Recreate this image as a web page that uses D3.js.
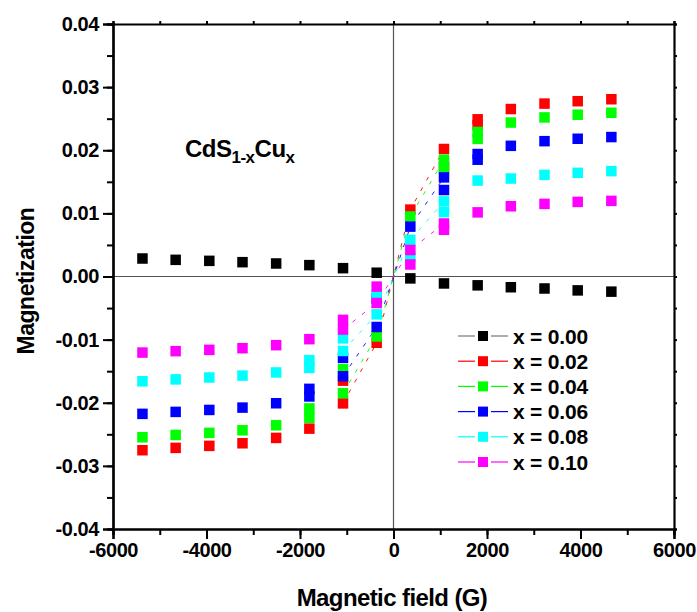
<!DOCTYPE html>
<html>
<head>
<meta charset="utf-8">
<script src="https://cdn.jsdelivr.net/npm/d3@7"></script>
<style>
  body { margin: 0; background: #fff; }
  text { font-family: "Liberation Sans", Arial, sans-serif; font-weight: bold; }
</style>
</head>
<body>
<svg width="697" height="612"></svg>
<script>
const svg = d3.select("svg");

// field values (G) where the points sit
const fields = [-5370, -4660, -3940, -3230, -2510, -1800, -1080, -360, 360, 1080, 1800, 2510, 3230, 3940, 4660];

const labels = ["x = 0.00", "x = 0.02", "x = 0.04", "x = 0.06", "x = 0.08", "x = 0.10"];
const colors = ["#000000", "#ff0000", "#00ff00", "#0000ff", "#00ffff", "#ff00ff"];
const lineColors = ["#777777", "#ff0000", "#00ff00", "#0000ff", "#00ffff", "#ff00ff"];

const m000 = [0.00285, 0.00264, 0.00248, 0.00227, 0.00206, 0.0018, 0.00132, 0.0006, -0.0003, -0.0011, -0.0014, -0.0017, -0.0019, -0.0022, -0.0024];
const m002 = [-0.02752, -0.02715, -0.02683, -0.02642, -0.02557, -0.0241, -0.0201, -0.0105, 0.0106, 0.0202, 0.0249, 0.02653, 0.02739, 0.02777, 0.02808];
const m004 = [-0.02547, -0.0251, -0.02477, -0.02436, -0.02357, -0.0224, -0.0185, -0.0095, 0.0095, 0.0185, 0.0229, 0.02439, 0.0252, 0.02563, 0.02594];
const m006 = [-0.02176, -0.02145, -0.02114, -0.02077, -0.02008, -0.019, -0.0158, -0.008, 0.0079, 0.0157, 0.0194, 0.0207, 0.02144, 0.02182, 0.02209];
const m008 = [-0.0166, -0.0163, -0.016, -0.0157, -0.0152, -0.01447, -0.0118, -0.006, 0.0058, 0.0119, 0.0152, 0.01552, 0.0161, 0.01642, 0.01669];
const m010 = [-0.01205, -0.01183, -0.01162, -0.01136, -0.01088, -0.00993, -0.0084, -0.0042, 0.0042, 0.0084, 0.01016, 0.01113, 0.0115, 0.01182, 0.01198];

// second-sweep points near the origin (field, magnetization)
const e000 = [];
const e002 = [[-1080, -0.0165], [1080, 0.0174], [1800, 0.0240]];
const e004 = [[-1800, -0.0209], [-1080, -0.0147], [1080, 0.0170], [1800, 0.0218]];
const e006 = [[-1800, -0.0178], [-1080, -0.0129], [-360, -0.0035], [1080, 0.0137], [1800, 0.0185]];
const e008 = [[-1800, -0.01326], [-1080, -0.0098], [-360, -0.00285], [360, 0.0031], [1080, 0.0102]];
const e010 = [[-1080, -0.00687], [-360, -0.0016], [360, 0.0019], [1080, 0.0074]];

const mains = [m000, m002, m004, m006, m008, m010];
const extras = [e000, e002, e004, e006, e008, e010];

const xTicks = [-6000, -4000, -2000, 0, 2000, 4000, 6000];
const yTicks = [-0.04, -0.03, -0.02, -0.01, 0, 0.01, 0.02, 0.03, 0.04];

const pLeft = 113, pRight = 674, pTop = 24, pBottom = 529;

const x = d3.scaleLinear().domain([-6000, 6000]).range([pLeft, pRight]);
const y = d3.scaleLinear().domain([-0.04, 0.04]).range([pBottom, pTop]);

// zero lines
svg.append("line").attr("x1", pLeft).attr("x2", pRight).attr("y1", y(0)).attr("y2", y(0))
  .attr("stroke", "#555").attr("stroke-width", 1.2);
svg.append("line").attr("x1", x(0)).attr("x2", x(0)).attr("y1", pTop).attr("y2", pBottom)
  .attr("stroke", "#555").attr("stroke-width", 1.2);

// axes
const minorX = d3.range(-6000, 6001, 1000);
const minorY = d3.range(-8, 9).map(i => i * 0.005);

const bx = svg.append("g").attr("transform", `translate(0,${pBottom})`)
  .call(d3.axisBottom(x).tickValues(minorX).tickSize(6).tickFormat(""));
bx.append("g").call(d3.axisBottom(x).tickValues(xTicks).tickSize(10).tickPadding(4)
  .tickFormat(d => String(d)));

const ly = svg.append("g").attr("transform", `translate(${pLeft},0)`)
  .call(d3.axisLeft(y).tickValues(minorY).tickSize(6).tickFormat(""));
ly.append("g").call(d3.axisLeft(y).tickValues(yTicks).tickSize(10).tickPadding(4)
  .tickFormat(d => (Math.abs(d) < 1e-9 ? 0 : d).toFixed(2)));

svg.append("g").attr("transform", `translate(0,${pTop})`)
  .call(d3.axisTop(x).tickValues(minorX).tickSize(3).tickFormat(""));
svg.append("g").attr("transform", `translate(${pRight},0)`)
  .call(d3.axisRight(y).tickValues(minorY).tickSize(3).tickFormat(""));

svg.selectAll(".domain").attr("stroke", "#000").attr("stroke-width", 2.2);
svg.selectAll(".tick line").attr("stroke", "#000").attr("stroke-width", 2);
svg.selectAll(".tick text").attr("font-size", 20).attr("fill", "#000")
  .attr("font-family", "Liberation Sans, Arial, sans-serif").attr("font-weight", "bold")
  .attr("letter-spacing", -0.4);

// dashed connecting lines near the origin
const line = d3.line().x(d => x(d[0])).y(d => y(d[1]));
mains.forEach((vals, i) => {
  if (i === 0) return;
  const pts = d3.range(6, 10).map(k => [fields[k], vals[k]]);
  svg.append("path").datum(pts).attr("d", line)
    .attr("fill", "none").attr("stroke", colors[i]).attr("stroke-width", 0.9)
    .attr("stroke-dasharray", "4,8");
});

// points
const sq = 10.5;
mains.forEach((vals, i) => {
  const pts = fields.map((f, k) => [f, vals[k]]).concat(extras[i]);
  svg.append("g").selectAll("rect").data(pts).enter().append("rect")
    .attr("x", d => x(d[0]) - sq / 2)
    .attr("y", d => y(d[1]) - sq / 2)
    .attr("width", sq).attr("height", sq)
    .attr("fill", colors[i]);
});

// legend
const lg = svg.append("g");
labels.forEach((t, i) => {
  const ly0 = 336 + i * 25.2;
  lg.append("line").attr("x1", 458).attr("x2", 475).attr("y1", ly0).attr("y2", ly0)
    .attr("stroke", lineColors[i]).attr("stroke-width", 1.2);
  lg.append("line").attr("x1", 491).attr("x2", 508).attr("y1", ly0).attr("y2", ly0)
    .attr("stroke", lineColors[i]).attr("stroke-width", 1.2);
  lg.append("rect").attr("x", 483 - 5).attr("y", ly0 - 5).attr("width", 10).attr("height", 10)
    .attr("fill", colors[i]);
  lg.append("text").attr("x", 513).attr("y", ly0 + 7.5).attr("font-size", 21)
    .attr("letter-spacing", -0.2).text(t);
});

// sample label
const lab = svg.append("text").attr("x", 185).attr("y", 157).attr("font-size", 24).attr("letter-spacing", -0.5);
lab.append("tspan").text("CdS");
lab.append("tspan").attr("dy", 6).attr("font-size", 17).text("1-x");
lab.append("tspan").attr("dy", -6).text("Cu");
lab.append("tspan").attr("dy", 6).attr("font-size", 17).text("x");

// axis titles
svg.append("text").attr("x", 392).attr("y", 606).attr("text-anchor", "middle")
  .attr("font-size", 24).attr("letter-spacing", -0.6).text("Magnetic field (G)");
svg.append("text").attr("transform", "translate(34,281) rotate(-90)").attr("text-anchor", "middle")
  .attr("font-size", 23).attr("letter-spacing", -0.5).text("Magnetization");
</script>
</body>
</html>
